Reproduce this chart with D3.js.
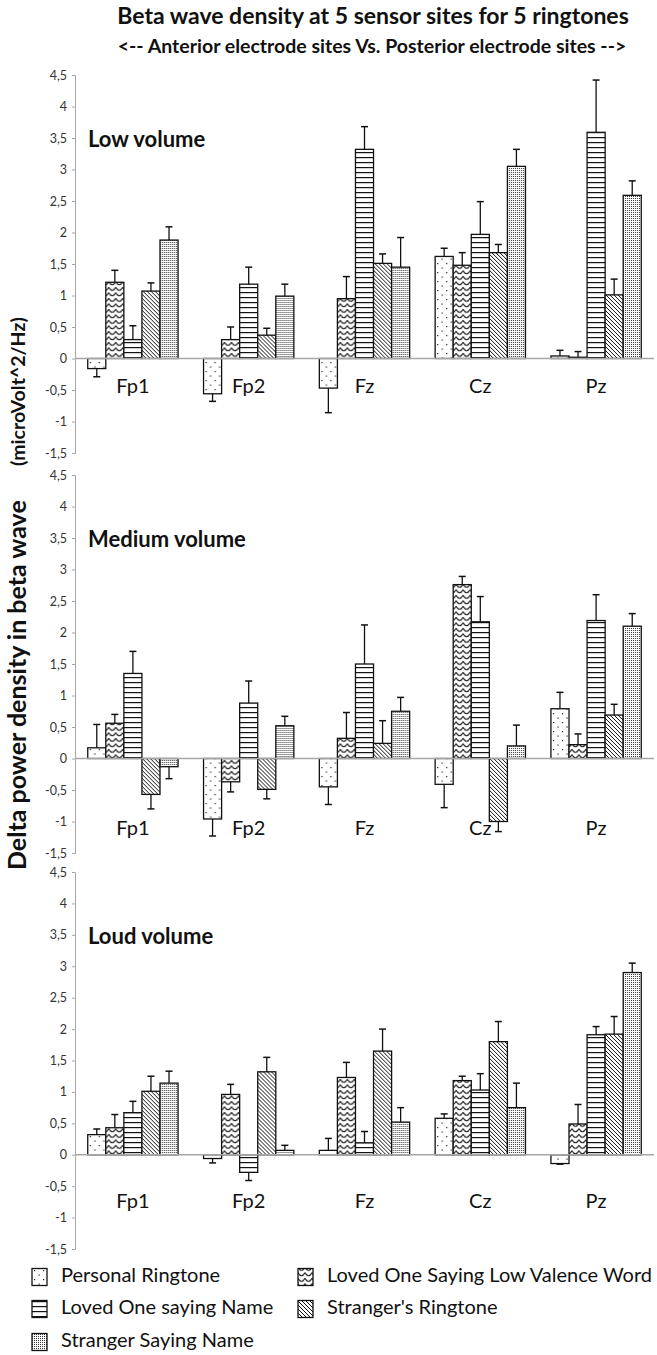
<!DOCTYPE html>
<html>
<head>
<meta charset="utf-8">
<script src="https://cdn.jsdelivr.net/npm/d3@7"></script>
<style>
  html, body { margin: 0; padding: 0; background: #fff; }
  svg { display: block; font-family: Lato, "Open Sans", sans-serif; }
</style>
</head>
<body>
<svg id="chart" width="657" height="1355"></svg>
<script>
// ---------------- DATA ----------------
const categories = ["Fp1", "Fp2", "Fz", "Cz", "Pz"];
const seriesNames = [
  "Personal Ringtone",
  "Loved One Saying Low Valence Word",
  "Loved One saying Name",
  "Stranger's Ringtone",
  "Stranger Saying Name"
];
const yTicks = [-1.5, -1, -0.5, 0, 0.5, 1, 1.5, 2, 2.5, 3, 3.5, 4, 4.5];
const panelTitles = ["Low volume", "Medium volume", "Loud volume"];

// means: rows = categories (Fp1..Pz), cols = series (order of seriesNames)
const lowMeans = [
  [-0.16, 1.21, 0.30, 1.07, 1.88],
  [-0.56, 0.30, 1.18, 0.37, 0.99],
  [-0.47, 0.95, 3.32, 1.51, 1.45],
  [ 1.62, 1.48, 1.97, 1.68, 3.05],
  [ 0.04, 0.02, 3.59, 1.01, 2.59]
];
const lowErrors = [
  [0.13, 0.19, 0.22, 0.13, 0.21],
  [0.12, 0.20, 0.27, 0.11, 0.19],
  [0.39, 0.35, 0.36, 0.15, 0.47],
  [0.13, 0.20, 0.52, 0.13, 0.27],
  [0.09, 0.09, 0.83, 0.25, 0.23]
];
const mediumMeans = [
  [ 0.17,  0.56, 1.35, -0.57, -0.13],
  [-0.96, -0.37, 0.88, -0.49,  0.52],
  [-0.45,  0.32, 1.50,  0.24,  0.75],
  [-0.41,  2.76, 2.17, -1.00,  0.20],
  [ 0.79,  0.22, 2.19,  0.69,  2.10]
];
const mediumErrors = [
  [0.37, 0.14, 0.35, 0.23, 0.19],
  [0.27, 0.16, 0.35, 0.15, 0.15],
  [0.28, 0.41, 0.62, 0.36, 0.22],
  [0.37, 0.13, 0.40, 0.16, 0.33],
  [0.26, 0.17, 0.41, 0.17, 0.20]
];
const loudMeans = [
  [ 0.32, 0.43,  0.67, 1.01, 1.14],
  [-0.06, 0.96, -0.28, 1.32, 0.07],
  [ 0.07, 1.23,  0.19, 1.65, 0.52],
  [ 0.58, 1.18,  1.03, 1.80, 0.75],
  [-0.14, 0.49,  1.91, 1.92, 2.90]
];
const loudErrors = [
  [0.09, 0.21, 0.18, 0.24, 0.19],
  [0.07, 0.16, 0.13, 0.23, 0.08],
  [0.19, 0.24, 0.18, 0.35, 0.23],
  [0.07, 0.07, 0.26, 0.32, 0.39],
  [0.01, 0.31, 0.13, 0.28, 0.15]
];

// ---------------- LAYOUT ----------------
const svg = d3.select("#chart");
const axisX = 75, plotRight = 654;
const panels = [
  { title: panelTitles[0], means: lowMeans, errors: lowErrors, top: 75, bottom: 453, labelAt: -0.46 },
  { title: panelTitles[1], means: mediumMeans, errors: mediumErrors, top: 475, bottom: 853, labelAt: -1.14 },
  { title: panelTitles[2], means: loudMeans, errors: loudErrors, top: 872, bottom: 1249, labelAt: -0.76 }
];

// ---------------- PATTERNS ----------------
const defs = svg.append("defs");
const patIds = ["pDots", "pWave", "pHoriz", "pDiag", "pFine"];
{
  let p = defs.append("pattern").attr("id", "pDots").attr("patternUnits", "userSpaceOnUse")
    .attr("width", 9).attr("height", 9);
  p.append("rect").attr("width", 9).attr("height", 9).attr("fill", "#fff");
  p.append("rect").attr("x", 2).attr("y", 2).attr("width", 1.2).attr("height", 1.2).attr("fill", "#222");
  p.append("rect").attr("x", 6.5).attr("y", 6.5).attr("width", 1.2).attr("height", 1.2).attr("fill", "#222");

  p = defs.append("pattern").attr("id", "pWave").attr("patternUnits", "userSpaceOnUse")
    .attr("width", 7).attr("height", 5.5);
  p.append("rect").attr("width", 7).attr("height", 5.5).attr("fill", "#fff");
  p.append("path").attr("d", "M0,1.2 Q1.75,4.4 3.5,4.4 Q5.25,4.4 7,1.2").attr("fill", "none")
    .attr("stroke", "#111").attr("stroke-width", 1);

  p = defs.append("pattern").attr("id", "pHoriz").attr("patternUnits", "userSpaceOnUse")
    .attr("width", 6).attr("height", 5);
  p.append("rect").attr("width", 6).attr("height", 5).attr("fill", "#fff");
  p.append("rect").attr("x", 0).attr("y", 2).attr("width", 6).attr("height", 1.2).attr("fill", "#111");

  p = defs.append("pattern").attr("id", "pDiag").attr("patternUnits", "userSpaceOnUse")
    .attr("width", 4).attr("height", 4);
  p.append("rect").attr("width", 4).attr("height", 4).attr("fill", "#fff");
  p.append("path").attr("d", "M-1,-1 L5,5 M-1,3 L1,5 M3,-1 L5,1")
    .attr("stroke", "#111").attr("stroke-width", 1);

  p = defs.append("pattern").attr("id", "pFine").attr("patternUnits", "userSpaceOnUse")
    .attr("width", 2).attr("height", 2);
  p.append("rect").attr("width", 2).attr("height", 2).attr("fill", "#fff");
  p.append("rect").attr("width", 1).attr("height", 1).attr("fill", "#333");
}

// ---------------- TITLES ----------------
svg.append("text").attr("x", 373).attr("y", 18).attr("text-anchor", "middle")
  .attr("dominant-baseline", "middle").attr("font-weight", 700).attr("font-size", 23)
  .attr("fill", "#111").text("Beta wave density at 5 sensor sites for 5 ringtones");
svg.append("text").attr("x", 372).attr("y", 48).attr("text-anchor", "middle")
  .attr("dominant-baseline", "middle").attr("font-weight", 700).attr("font-size", 19.5)
  .attr("fill", "#111").text("<-- Anterior electrode sites Vs. Posterior electrode sites -->");

// y-axis label (rotated)
svg.append("text").attr("transform", "translate(20,870) rotate(-90)")
  .attr("text-anchor", "start").attr("dominant-baseline", "middle")
  .attr("font-weight", 700).attr("font-size", 25).attr("fill", "#111")
  .text("Delta power density in beta wave");
svg.append("text").attr("transform", "translate(20,466) rotate(-90)")
  .attr("text-anchor", "start").attr("dominant-baseline", "middle")
  .attr("font-weight", 700).attr("font-size", 19.5).attr("fill", "#111")
  .text("(microVolt^2/Hz)");

// ---------------- PANELS ----------------
const x0 = d3.scaleBand().domain(categories).range([axisX, plotRight])
  .paddingInner(0.22).paddingOuter(0.11);
const x1 = d3.scaleBand().domain(d3.range(seriesNames.length)).range([0, x0.bandwidth()]);

panels.forEach(pn => {
  const y = d3.scaleLinear().domain([-1.5, 4.5]).range([pn.bottom, pn.top]);
  const g = svg.append("g");

  // axis
  const ax = g.append("g").attr("transform", `translate(${axisX},0)`)
    .call(d3.axisLeft(y).tickValues(yTicks).tickSize(3).tickPadding(5)
      .tickFormat(d => String(d).replace(".", ",")));
  ax.select(".domain").attr("stroke", "#a6a6a6").attr("stroke-width", 1);
  ax.selectAll(".tick line").attr("stroke", "#a6a6a6");
  ax.selectAll(".tick text").attr("fill", "#333").attr("font-size", 12.5)
    .attr("font-family", "Lato, 'Open Sans', sans-serif");

  // panel title
  g.append("text").attr("x", 88).attr("y", y(3.45)).attr("dominant-baseline", "middle")
    .attr("font-weight", 700).attr("font-size", 22).attr("fill", "#111").text(pn.title);

  // bars
  categories.forEach((cat, ci) => {
    const cg = g.append("g").attr("transform", `translate(${x0(cat)},0)`);
    pn.means[ci].forEach((v, si) => {
      const bx = x1(si), bw = x1.bandwidth();
      cg.append("rect").attr("x", bx).attr("width", bw)
        .attr("y", y(Math.max(0, v))).attr("height", Math.abs(y(v) - y(0)))
        .attr("fill", `url(#${patIds[si]})`).attr("stroke", "#111").attr("stroke-width", 1.3);
    });
    pn.means[ci].forEach((v, si) => {
      const e = pn.errors[ci][si];
      const tip = v >= 0 ? v + e : v - e;
      const cx = x1(si) + x1.bandwidth() / 2;
      cg.append("line").attr("x1", cx).attr("x2", cx).attr("y1", y(v)).attr("y2", y(tip))
        .attr("stroke", "#111").attr("stroke-width", 1.3);
      cg.append("line").attr("x1", cx - 3.5).attr("x2", cx + 3.5).attr("y1", y(tip)).attr("y2", y(tip))
        .attr("stroke", "#111").attr("stroke-width", 1.5);
    });
    // category label
    g.append("text").attr("x", x0(cat) + x0.bandwidth() / 2).attr("y", y(pn.labelAt))
      .attr("text-anchor", "middle").attr("dominant-baseline", "middle")
      .attr("font-size", 20).attr("fill", "#111").text(cat);
  });

  // zero line
  g.append("line").attr("x1", axisX).attr("x2", plotRight).attr("y1", y(0)).attr("y2", y(0))
    .attr("stroke", "#a6a6a6").attr("stroke-width", 1.5);
});

// ---------------- LEGEND ----------------
const legendPos = [
  { x: 32, y: 1277 }, { x: 298, y: 1277 },
  { x: 32, y: 1309 }, { x: 298, y: 1309 },
  { x: 32, y: 1342 }
];
seriesNames.forEach((name, i) => {
  const lp = legendPos[i];
  const lg = svg.append("g").attr("transform", `translate(${lp.x},${lp.y})`);
  lg.append("rect").attr("x", 0).attr("y", -8.5).attr("width", 15).attr("height", 17)
    .attr("fill", `url(#${patIds[i]})`).attr("stroke", "#111").attr("stroke-width", 1.3);
  lg.append("text").attr("x", 29).attr("y", 0).attr("dominant-baseline", "middle")
    .attr("font-size", 20).attr("fill", "#111").text(name);
});
</script>
</body>
</html>
